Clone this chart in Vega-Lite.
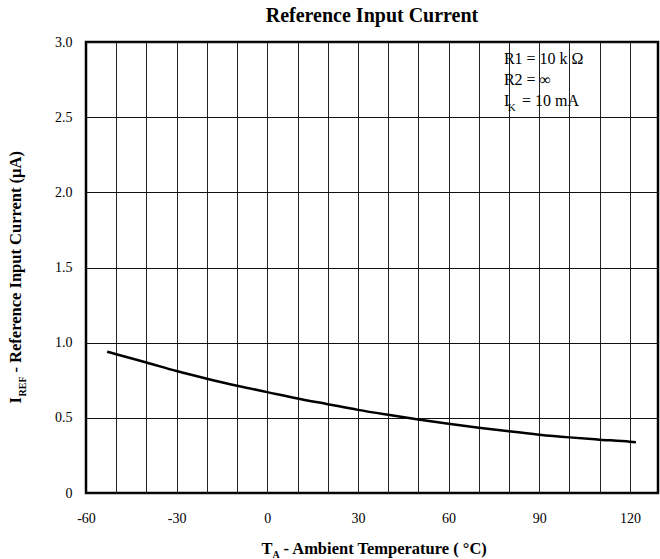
{
  "$schema": "https://vega.github.io/schema/vega-lite/v6.json",
  "width": 572,
  "height": 451,
  "autosize": {"type": "none"},
  "padding": {"left": 86, "top": 42, "right": 2, "bottom": 66},
  "background": "white",
  "config": {
    "font": "Liberation Serif",
    "view": {"stroke": "black", "strokeWidth": 2.5},
    "axis": {"labelFont": "Liberation Serif", "titleFont": "Liberation Serif", "labelColor": "black", "titleColor": "black"}
  },
  "title": {
    "text": "Reference Input Current",
    "font": "Liberation Serif",
    "fontSize": 20,
    "fontWeight": "bold",
    "color": "black",
    "anchor": "middle",
    "frame": "group",
    "baseline": "alphabetic",
    "offset": 17,
    "dy": 24
  },
  "datasets": {
    "curve": [
      {"T": -53, "I": 0.94},
      {"T": -50, "I": 0.923},
      {"T": -40, "I": 0.868},
      {"T": -30, "I": 0.811},
      {"T": -20, "I": 0.76},
      {"T": -10, "I": 0.713},
      {"T": 0, "I": 0.671},
      {"T": 10, "I": 0.629},
      {"T": 20, "I": 0.591},
      {"T": 30, "I": 0.553},
      {"T": 40, "I": 0.52},
      {"T": 50, "I": 0.489},
      {"T": 60, "I": 0.46},
      {"T": 70, "I": 0.434},
      {"T": 80, "I": 0.41},
      {"T": 90, "I": 0.388},
      {"T": 100, "I": 0.37},
      {"T": 110, "I": 0.355},
      {"T": 120, "I": 0.341},
      {"T": 122, "I": 0.337}
    ],
    "notes": [
      {"T": 78.3, "I": 2.887, "label": "R1 = 10 k Ω"},
      {"T": 78.3, "I": 2.747, "label": "R2 =  ∞"},
      {"T": 78.3, "I": 2.608, "label": "I"},
      {"T": 84.3, "I": 2.608, "label": "= 10 mA"}
    ],
    "sub": [
      {"T": 79.6, "I": 2.56, "label": "K"}
    ]
  },
  "layer": [
    {
      "data": {"name": "curve"},
      "mark": {"type": "line", "color": "black", "strokeWidth": 2.5, "interpolate": "monotone", "clip": true},
      "encoding": {
        "x": {
          "field": "T", "type": "quantitative",
          "scale": {"domain": [-60, 129.3], "nice": false, "zero": false},
          "axis": {
            "orient": "bottom",
            "values": [-60, -30, 0, 30, 60, 90, 120],
            "labelExpr": "datum.value < 0 ? '-' + abs(datum.value) : '' + datum.value",
            "grid": false, "ticks": false, "tickSize": 0, "domain": false,
            "labelFontSize": 14, "labelPadding": 29, "labelBaseline": "alphabetic",
            "labelFlush": false,
            "title": "T",
            "titleFontSize": 16.5, "titleFontWeight": "bold",
            "titleAlign": "left", "titleBaseline": "alphabetic",
            "titleX": 175, "titleY": 60
          }
        },
        "y": {
          "field": "I", "type": "quantitative",
          "scale": {"domain": [0, 3], "nice": false},
          "axis": {
            "orient": "left",
            "values": [0, 0.5, 1, 1.5, 2, 2.5, 3],
            "labelExpr": "datum.value == 0 ? '0' : format(datum.value, '.1f')",
            "grid": true, "gridColor": "#111", "gridWidth": 1, "gridOpacity": 1,
            "ticks": false, "tickSize": 0, "domain": false,
            "labelFontSize": 14, "labelPadding": 14, "labelBaseline": "middle",
            "labelFlush": false,
            "title": "I",
            "titleFontSize": 16.5, "titleFontWeight": "bold",
            "titleAngle": -90, "titleAlign": "left", "titleBaseline": "alphabetic",
            "titleX": -65.5, "titleY": 361
          }
        }
      }
    },
    {
      "data": {"name": "notes"},
      "mark": {"type": "text", "align": "left", "baseline": "middle", "fontSize": 16, "font": "Liberation Serif", "color": "black"},
      "encoding": {
        "x": {
          "field": "T", "type": "quantitative",
          "axis": {
            "orient": "bottom",
            "values": [-50, -40, -30, -20, -10, 0, 10, 20, 30, 40, 50, 60, 70, 80, 90, 100, 110, 120],
            "grid": true, "gridColor": "#222", "gridWidth": 1, "gridOpacity": 1,
            "labels": false, "ticks": false, "tickSize": 0, "domain": false,
            "title": "A", "titleFontSize": 10, "titleFontWeight": "bold",
            "titleAlign": "left", "titleBaseline": "alphabetic",
            "titleX": 186, "titleY": 64
          }
        },
        "y": {
          "field": "I", "type": "quantitative",
          "axis": {
            "orient": "left",
            "grid": false, "labels": false, "ticks": false, "tickSize": 0, "domain": false,
            "title": "REF", "titleFontSize": 10, "titleFontWeight": "bold",
            "titleAngle": -90, "titleAlign": "left", "titleBaseline": "alphabetic",
            "titleX": -61, "titleY": 354
          }
        },
        "text": {"field": "label"}
      }
    },
    {
      "data": {"name": "sub"},
      "mark": {"type": "text", "align": "left", "baseline": "middle", "fontSize": 11, "font": "Liberation Serif", "color": "black"},
      "encoding": {
        "x": {
          "field": "T", "type": "quantitative",
          "axis": {
            "orient": "bottom",
            "grid": false, "labels": false, "ticks": false, "tickSize": 0, "domain": false,
            "title": "- Ambient Temperature ( °C)", "titleFontSize": 16.5, "titleFontWeight": "bold",
            "titleAlign": "left", "titleBaseline": "alphabetic",
            "titleX": 197, "titleY": 60
          }
        },
        "y": {
          "field": "I", "type": "quantitative",
          "axis": {
            "orient": "left",
            "grid": false, "labels": false, "ticks": false, "tickSize": 0, "domain": false,
            "title": "- Reference Input Current (µA)", "titleFontSize": 16.5, "titleFontWeight": "bold",
            "titleAngle": -90, "titleAlign": "left", "titleBaseline": "alphabetic",
            "titleX": -65.5, "titleY": 330
          }
        },
        "text": {"field": "label"}
      }
    }
  ],
  "resolve": {"axis": {"x": "independent", "y": "independent"}}
}
